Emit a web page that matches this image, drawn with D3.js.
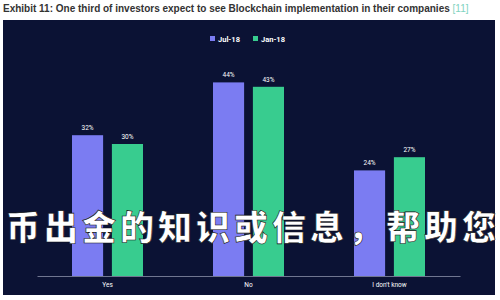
<!DOCTYPE html>
<html>
<head>
<meta charset="utf-8">
<script src="https://cdn.jsdelivr.net/npm/d3@7"></script>
<style>
  body { margin: 0; background: #fff; }
  svg { display: block; font-family: Roboto, "Noto Sans", sans-serif; }
</style>
</head>
<body>
<svg id="chart" width="500" height="300"></svg>
<script>
const categories = ['Yes', 'No', 'I don\'t know'];
const seriesNames = ['Jul-18', 'Jan-18'];
const jul18 = [32, 44, 24];
const jan18 = [30, 43, 27];
const colors = ['#7b7cf2', '#38cc8f'];

const svg = d3.select('#chart');

// title
svg.append('text')
  .attr('x', 3)
  .attr('y', 12)
  .attr('font-family', '"Liberation Sans", Arial, sans-serif')
  .attr('font-size', 10)
  .attr('font-weight', 700)
  .attr('fill', '#333')
  .text('Exhibit 11: One third of investors expect to see Blockchain implementation in their companies ')
  .append('tspan')
  .attr('fill', '#7fd3c0')
  .attr('font-weight', 400)
  .text('[11]');

// dark panel
svg.append('rect')
  .attr('x', 3).attr('y', 20)
  .attr('width', 492).attr('height', 275)
  .attr('fill', '#0b1234');

const x0 = d3.scaleBand().domain(categories).range([37, 460]);
const x1 = d3.scaleBand().domain(seriesNames).range([35, 106]).paddingInner(0.22);
const y = d3.scaleLinear().domain([0, 50]).range([276, 56]);

const rows = categories.map((c, i) => ({ cat: c, values: [jul18[i], jan18[i]] }));

const g = svg.selectAll('.grp')
  .data(rows)
  .enter()
    .append('g')
    .attr('transform', d => 'translate(' + x0(d.cat) + ',0)');

g.selectAll('rect')
  .data(d => d.values.map((v, j) => ({ name: seriesNames[j], v, j })))
  .enter()
    .append('rect')
    .attr('x', d => x1(d.name))
    .attr('y', d => y(d.v))
    .attr('width', x1.bandwidth())
    .attr('height', d => y(0) - y(d.v))
    .attr('fill', d => colors[d.j]);

g.selectAll('.lbl')
  .data(d => d.values.map((v, j) => ({ name: seriesNames[j], v, j })))
  .enter()
    .append('text')
    .attr('x', d => x1(d.name) + x1.bandwidth() / 2)
    .attr('y', d => y(d.v) - 5)
    .attr('text-anchor', 'middle')
    .attr('font-size', 6.5)
    .attr('fill', '#fff')
    .text(d => d.v + '%');

// x axis
const axis = svg.append('g')
  .attr('transform', 'translate(0,' + y(0) + ')')
  .call(d3.axisBottom(x0).tickSize(0).tickPadding(6));
axis.select('.domain').attr('stroke', '#8a90a8').attr('stroke-width', 0.8);
axis.selectAll('text').attr('fill', '#fff').attr('font-size', 6.5)
  .attr('font-family', 'Roboto, "Noto Sans", sans-serif');

// legend
const legend = svg.append('g').attr('transform', 'translate(210,40)');
const items = legend.selectAll('g')
  .data(seriesNames)
  .enter()
    .append('g')
    .attr('transform', (d, i) => 'translate(' + (i * 43) + ',0)');
items.append('rect')
  .attr('x', 0).attr('y', -4)
  .attr('width', 5).attr('height', 5)
  .attr('fill', (d, i) => colors[i]);
items.append('text')
  .attr('x', 8).attr('y', 1.5)
  .attr('font-size', 7.5)
  .attr('font-weight', 700)
  .attr('fill', '#fff')
  .text(d => d);

// overlay text
svg.append('text')
  .attr('x', 6)
  .attr('y', 240)
  .attr('font-family', '"Noto Sans CJK SC", sans-serif')
  .attr('font-weight', 900)
  .attr('font-size', 34)
  .attr('textLength', 490)
  .attr('lengthAdjust', 'spacing')
  .attr('fill', '#fff')
  .attr('stroke', '#111')
  .attr('stroke-width', 0.6)
  .text('币出金的知识或信息，帮助您');
</script>
</body>
</html>
